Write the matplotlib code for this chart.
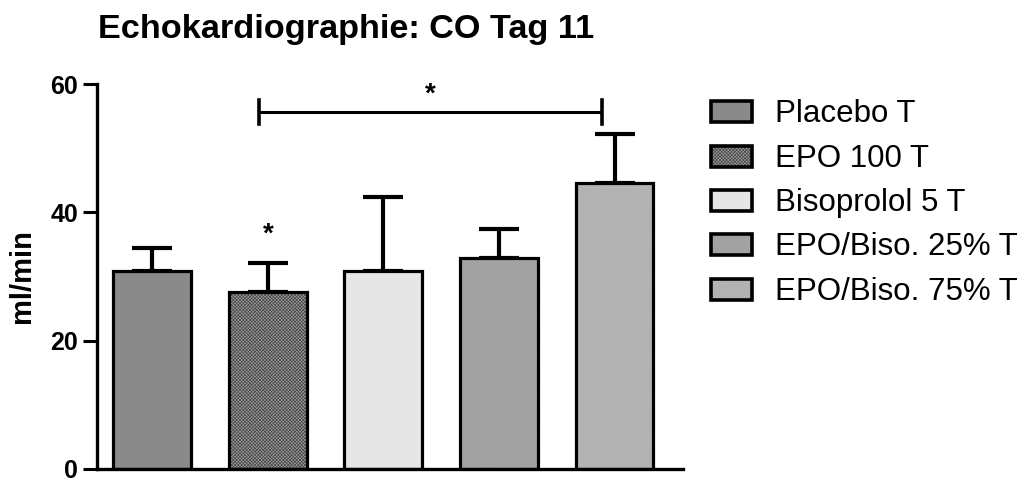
import matplotlib
matplotlib.use("Agg")
import matplotlib.pyplot as plt
from matplotlib.patches import Rectangle

plt.rcParams['font.family'] = ['Liberation Sans', 'DejaVu Sans']
plt.rcParams['hatch.linewidth'] = 0.5

categories = ["Placebo T", "EPO 100 T", "Bisoprolol 5 T", "EPO/Biso. 25% T", "EPO/Biso. 75% T"]
means = [30.8, 27.6, 30.9, 32.9, 44.6]
sem = [3.6, 4.5, 11.5, 4.5, 7.6]
face_colors = ["#8a8a8a", "#9a9a9a", "#e6e6e6", "#c6c6c6", "#d2d2d2"]
hatch_colors = ["#7a7a7a", "#4a4a4a", "#d4d4d4", "#8a8a8a", "#9e9e9e"]
hatches = ["", "x" * 10, "", "/" * 20, "/" * 20]
title = "Echokardiographie: CO Tag 11"
ylabel = "ml/min"
yticks = [0, 20, 40, 60]
sig_bracket = (0.922, 3.892, 55.6)   # from x, to x, y
sig_star_y = 57.3
star_single = (1, 35.5)

W, H = 1027, 478
fig = plt.figure(figsize=(W / 100, H / 100), dpi=100)
ax = fig.add_axes([97 / W, 1 - 469 / H, (683 - 97) / W, (469 - 84) / H])

x = list(range(len(categories)))
lw = 2.3
for i in x:
    ax.bar(i, means[i], width=0.675, color=face_colors[i], edgecolor=hatch_colors[i],
           hatch=hatches[i] or None, linewidth=0, zorder=2)
    ax.bar(i, means[i], width=0.675, facecolor="none", edgecolor="black",
           linewidth=lw, zorder=3)
    ax.errorbar(i, means[i], yerr=[[0], [sem[i]]], fmt="none", ecolor="black",
                elinewidth=3.0, capsize=14.5, capthick=3.0, zorder=1)

ax.set_xlim(-0.48, 4.593)
ax.set_ylim(0, 60)
ax.set_yticks(yticks)
ax.set_xticks([])
for s in ["top", "right"]:
    ax.spines[s].set_visible(False)
for s in ["left", "bottom"]:
    ax.spines[s].set_linewidth(2.4)
ax.tick_params(axis="y", direction="out", length=10, width=2.2, labelsize=18, pad=3.6)
for lab in ax.get_yticklabels():
    lab.set_fontweight("bold")
ax.set_ylabel(ylabel, fontsize=21, fontweight="bold", va="center", ha="center",
              rotation_mode="default")
ax.yaxis.set_label_coords(22 / W, 1 - 276 / H, transform=fig.transFigure)

# significance bracket
x0, x1, yb = sig_bracket
ax.plot([x0, x1], [yb, yb], color="black", lw=2.2, clip_on=False, solid_capstyle="butt")
for xe in (x0, x1):
    ax.plot([xe, xe], [yb - 1.87, yb + 1.87], color="black", lw=2.6, clip_on=False)
ax.text((x0 + x1) / 2, sig_star_y, "*", ha="center", va="baseline",
        fontsize=20, fontweight="bold")
ax.text(star_single[0], star_single[1], "*", ha="center", va="baseline",
        fontsize=20, fontweight="bold")

fig.text(346 / W, 1 - 38 / H, title, ha="center", va="baseline", fontsize=24.7,
         fontweight="bold")

# legend (drawn by hand to keep the textures)
row_y = [111.5, 156, 200, 244.5, 289]
for i in x:
    yc = row_y[i]
    rx, ry, rw, rh = 711 / W, 1 - (yc + 10.5) / H, 41 / W, 21 / H
    fig.add_artist(Rectangle((rx, ry), rw, rh, transform=fig.transFigure,
                             facecolor=face_colors[i], edgecolor=hatch_colors[i],
                             hatch=hatches[i] or None, linewidth=0))
    fig.add_artist(Rectangle((rx, ry), rw, rh, transform=fig.transFigure,
                             facecolor="none", edgecolor="black", linewidth=2.6))
    fig.text(775 / W, 1 - (yc + 11) / H, categories[i], ha="left", va="baseline",
             fontsize=22.5)

fig.savefig("out.png", dpi=100)
